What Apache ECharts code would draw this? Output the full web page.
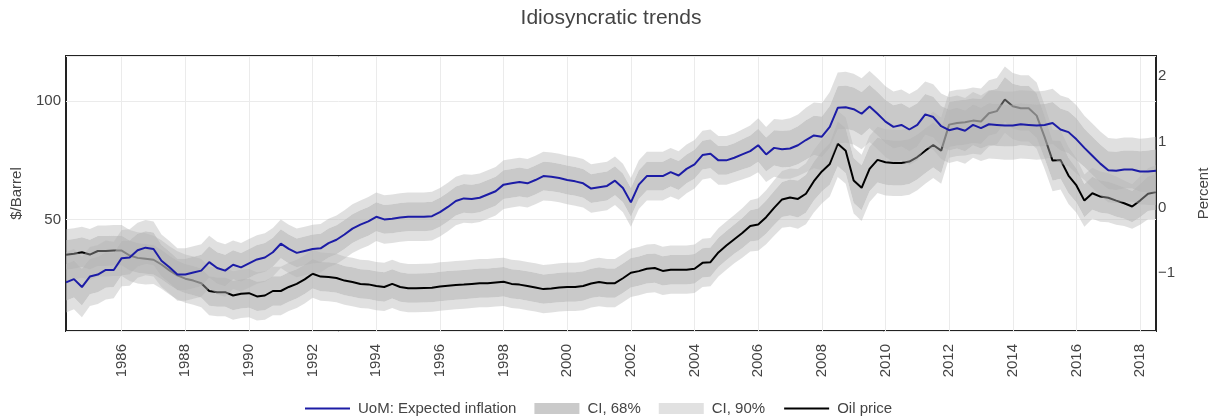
<!DOCTYPE html>
<html><head><meta charset="utf-8">
<script src="https://cdn.jsdelivr.net/npm/echarts@6/dist/echarts.min.js"></script>
<style>html,body{margin:0;padding:0;background:#fff}#c{width:1211px;height:417px}</style>
</head><body><div id="c"></div>
<script>
// Quarterly time axis, 1984Q2 .. 2018Q3
const quarters = (function () {
  const a = [];
  for (let y = 1984; y <= 2018; y++) {
    for (let q = 1; q <= 4; q++) {
      if (y === 1984 && q < 2) continue;
      if (y === 2018 && q > 3) continue;
      a.push(y + 'Q' + q);
    }
  }
  return a;
})();
const xTickYears = ['1986','1988','1990','1992','1994','1996','1998','2000','2002','2004','2006','2008','2010','2012','2014','2016','2018'];
const leftTicks = [50, 100];
const rightTicks = [-1, 0, 1, 2];

// Oil price ($/Barrel), left axis
const oilPrice = [
 35.1,35.5,36.2,35.2,36.7,36.7,36.9,36.9,34.8,33.8,
 33.4,33.0,31.0,28.5,26.4,25.0,24.2,23.1,19.8,19.3,
 19.3,17.9,18.6,18.9,17.5,17.9,19.8,19.8,21.5,22.8,
 24.7,27.1,25.9,25.7,25.3,24.2,23.6,22.8,22.6,21.9,
 21.5,22.8,21.5,21.0,21.0,21.1,21.2,21.7,22.0,22.3,
 22.5,22.8,23.1,23.1,23.4,23.7,22.8,22.5,21.9,21.3,
 20.6,20.9,21.3,21.5,21.5,21.9,23.0,23.6,23.1,23.1,
 25.2,27.5,28.2,29.2,29.5,28.3,28.8,28.8,28.8,29.2,
 31.7,32.0,36.1,39.0,41.7,44.3,47.3,47.9,51.0,54.9,
 58.5,59.3,58.7,60.9,66.2,70.3,73.5,82.0,79.1,66.5,
 63.4,71.4,75.2,74.2,73.9,73.9,74.5,76.4,79.1,81.5,
 79.1,90.1,90.8,91.1,91.8,91.4,94.9,95.8,100.7,97.9,
 97.0,97.0,93.9,84.8,74.9,75.2,68.6,64.4,58.0,61.1,
 59.7,59.2,58.0,56.9,55.5,58.0,60.9,61.6
];
// Oil price CI half-widths ($)
const oilCI68 = [
 6.3,6.3,6.3,6.3,6.3,6.3,6.3,6.3,6.3,6.3,
 6.3,6.2,6.2,6.2,6.2,6.2,6.2,6.2,6.2,6.2,
 6.2,6.2,6.2,6.2,6.2,6.2,6.2,6.2,6.2,6.2,
 6.2,6.2,6.2,6.2,6.2,6.2,6.2,6.2,6.2,6.2,
 6.2,6.2,6.2,6.2,6.2,6.2,6.2,6.2,6.2,6.2,
 6.2,6.2,6.2,6.2,6.2,6.2,6.2,6.2,6.2,6.2,
 6.2,6.2,6.2,6.2,6.2,6.2,6.2,6.2,6.2,6.2,
 6.2,6.2,6.2,6.2,6.2,6.2,6.2,6.2,6.2,6.2,
 6.2,6.2,6.2,6.2,6.2,6.4,6.6,6.8,7.0,7.2,
 7.4,7.6,7.8,8.0,8.2,8.5,8.8,9.5,9.5,9.5,
 9.5,9.5,9.5,9.5,9.5,9.5,9.5,9.5,9.5,9.5,
 9.5,9.5,9.5,9.5,9.5,9.5,9.5,9.5,9.5,9.5,
 9.5,9.5,9.5,9.0,8.5,8.0,7.5,7.2,7.0,7.0,
 6.8,6.8,6.8,6.6,6.6,7.0,7.3,7.6
];
const oilCI90 = [
 10.8,10.8,10.8,10.8,10.8,10.8,10.8,10.8,10.8,10.8,
 10.8,10.2,10.2,10.2,10.2,10.2,10.2,10.2,10.2,10.2,
 10.2,10.2,10.2,10.2,10.2,10.2,10.2,10.2,10.2,10.2,
 10.2,10.2,10.2,10.2,10.2,10.2,10.2,10.2,10.2,10.2,
 10.2,10.2,10.2,10.2,10.2,10.2,10.2,10.2,10.2,10.2,
 10.2,10.2,10.2,10.2,10.2,10.2,10.2,10.2,10.2,10.2,
 10.2,10.2,10.2,10.2,10.2,10.2,10.2,10.2,10.2,10.2,
 10.2,10.2,10.2,10.2,10.2,10.2,10.2,10.2,10.2,10.2,
 10.2,10.2,10.2,10.2,10.2,10.5,10.8,11.1,11.4,11.7,
 12.0,12.3,12.6,12.9,13.2,13.5,13.8,14.0,14.0,14.0,
 14.0,14.0,14.0,14.0,14.0,14.0,14.0,14.0,14.0,14.0,
 14.0,14.0,14.0,14.0,14.0,14.0,14.0,14.0,14.0,14.0,
 14.0,14.0,14.0,13.5,13.0,12.5,12.0,11.5,11.0,10.8,
 10.6,10.4,10.2,9.6,9.4,10.2,10.8,11.4
];
// UoM expected inflation (Percent), right axis
const expInflation = [
 -1.14,-1.09,-1.21,-1.05,-1.02,-0.95,-0.95,-0.77,-0.76,-0.65,
 -0.61,-0.63,-0.81,-0.91,-1.02,-1.02,-0.99,-0.96,-0.83,-0.92,
 -0.96,-0.87,-0.91,-0.85,-0.79,-0.76,-0.68,-0.55,-0.63,-0.69,
 -0.66,-0.63,-0.62,-0.54,-0.49,-0.41,-0.32,-0.26,-0.21,-0.14,
 -0.18,-0.17,-0.15,-0.14,-0.14,-0.14,-0.13,-0.07,0.01,0.10,
 0.14,0.13,0.15,0.20,0.25,0.35,0.37,0.39,0.37,0.42,
 0.48,0.47,0.45,0.42,0.40,0.37,0.29,0.31,0.33,0.41,
 0.30,0.08,0.35,0.48,0.48,0.48,0.54,0.49,0.59,0.66,
 0.80,0.82,0.72,0.72,0.76,0.81,0.86,0.95,0.81,0.91,
 0.89,0.90,0.95,1.03,1.10,1.08,1.23,1.52,1.53,1.50,
 1.43,1.54,1.43,1.31,1.23,1.26,1.19,1.26,1.42,1.38,
 1.24,1.18,1.21,1.17,1.26,1.21,1.27,1.26,1.25,1.25,
 1.27,1.26,1.25,1.26,1.29,1.19,1.15,1.04,0.91,0.79,
 0.67,0.57,0.56,0.58,0.58,0.55,0.55,0.56
];
// Expected inflation CI half-widths (percentage points)
const inflCI68 = [
 0.28,0.28,0.28,0.27,0.27,0.27,0.26,0.26,0.26,0.25,
 0.25,0.25,0.24,0.24,0.24,0.24,0.24,0.24,0.24,0.24,
 0.24,0.22,0.22,0.22,0.22,0.22,0.22,0.22,0.22,0.22,
 0.22,0.22,0.22,0.22,0.22,0.22,0.22,0.22,0.22,0.22,
 0.22,0.22,0.22,0.22,0.22,0.22,0.22,0.22,0.22,0.22,
 0.22,0.22,0.22,0.22,0.22,0.22,0.22,0.22,0.22,0.22,
 0.22,0.22,0.22,0.22,0.22,0.22,0.22,0.22,0.22,0.22,
 0.22,0.22,0.22,0.22,0.22,0.22,0.22,0.22,0.22,0.22,
 0.22,0.22,0.22,0.22,0.22,0.23,0.24,0.25,0.26,0.27,
 0.28,0.28,0.29,0.30,0.30,0.31,0.32,0.33,0.33,0.33,
 0.33,0.33,0.33,0.33,0.33,0.33,0.33,0.33,0.31,0.31,
 0.31,0.31,0.31,0.31,0.31,0.31,0.32,0.32,0.32,0.32,
 0.32,0.32,0.32,0.32,0.32,0.32,0.32,0.32,0.29,0.29,
 0.29,0.29,0.29,0.29,0.29,0.31,0.32,0.33
];
const inflCI90 = [
 0.46,0.46,0.46,0.45,0.45,0.45,0.43,0.43,0.43,0.42,
 0.42,0.42,0.40,0.40,0.40,0.40,0.40,0.40,0.40,0.40,
 0.40,0.37,0.37,0.37,0.37,0.37,0.37,0.37,0.37,0.37,
 0.37,0.37,0.37,0.37,0.37,0.37,0.37,0.37,0.37,0.37,
 0.37,0.37,0.37,0.37,0.37,0.37,0.37,0.37,0.37,0.37,
 0.37,0.37,0.37,0.37,0.37,0.37,0.37,0.37,0.37,0.37,
 0.37,0.37,0.37,0.37,0.37,0.37,0.37,0.37,0.37,0.37,
 0.37,0.37,0.37,0.37,0.37,0.37,0.37,0.37,0.37,0.37,
 0.37,0.37,0.37,0.37,0.37,0.38,0.39,0.41,0.42,0.44,
 0.45,0.46,0.47,0.49,0.50,0.51,0.53,0.54,0.54,0.54,
 0.54,0.54,0.54,0.54,0.54,0.54,0.54,0.54,0.50,0.50,
 0.50,0.50,0.50,0.50,0.50,0.50,0.52,0.52,0.52,0.52,
 0.52,0.52,0.52,0.52,0.52,0.52,0.52,0.52,0.49,0.49,
 0.49,0.49,0.49,0.49,0.49,0.50,0.51,0.52
];

const FONT = '"Liberation Sans", Arial, Helvetica, sans-serif';
const TXT = '#444';
const C68 = 'rgba(180,180,180,0.72)';
const C90 = 'rgba(180,180,180,0.42)';
const BLUE = '#1c1ca6';

function bandSeries(center, w68, w90, stack, yIdx, z) {
  const base = center.map((v, i) => +(v - w90[i]).toFixed(4));
  const outer = w90.map((w, i) => +(w - w68[i]).toFixed(4));
  const inner = w68.map(w => +(2 * w).toFixed(4));
  const common = { type: 'line', stack: stack, stackStrategy: 'all', yAxisIndex: yIdx, z: z,
    symbol: 'none', silent: true, lineStyle: { width: 0 }, emphasis: { disabled: true } };
  return [
    Object.assign({}, common, { name: '_base_' + stack, data: base }),
    Object.assign({}, common, { name: 'CI, 90%', data: outer, itemStyle: { color: '#e1e1e1' }, areaStyle: { color: C90, opacity: 1 } }),
    Object.assign({}, common, { name: 'CI, 68%', data: inner, itemStyle: { color: '#cacaca' }, areaStyle: { color: C68, opacity: 1 } }),
    Object.assign({}, common, { name: 'CI, 90%', data: outer, itemStyle: { color: '#e1e1e1' }, areaStyle: { color: C90, opacity: 1 } })
  ];
}
const isTick = (idx, val) => xTickYears.indexOf(val.slice(0, 4)) >= 0 && val.slice(4) === 'Q1';

const series = []
  .concat(bandSeries(oilPrice, oilCI68, oilCI90, 'oil', 0, 2))
  .concat([{ type: 'line', name: 'Oil price', data: oilPrice, yAxisIndex: 0, symbol: 'none', z: 3,
             lineStyle: { color: '#000', width: 2 }, itemStyle: { color: '#000' }, silent: true }])
  .concat(bandSeries(expInflation, inflCI68, inflCI90, 'infl', 1, 4))
  .concat([{ type: 'line', name: 'UoM: Expected inflation', data: expInflation, yAxisIndex: 1, symbol: 'none', z: 5,
             lineStyle: { color: BLUE, width: 2 }, itemStyle: { color: BLUE }, silent: true }]);

const noSym = { color: 'rgba(0,0,0,0)', borderColor: 'rgba(0,0,0,0)', borderWidth: 0 };

const chart = echarts.init(document.getElementById('c'), null, { renderer: 'canvas' });
chart.setOption({
  animation: false, backgroundColor: '#fff', textStyle: { fontFamily: FONT },
  title: { text: 'Idiosyncratic trends', left: 611, top: 8, padding: 0, textAlign: 'center',
    textStyle: { fontFamily: FONT, fontSize: 21, fontWeight: 'normal', color: TXT } },
  legend: { left: 299, top: 396, itemGap: 18, itemWidth: 45, itemHeight: 11,
    textStyle: { fontFamily: FONT, fontSize: 15, color: TXT, padding: [0, 0, 0, 3] },
    data: [
      { name: 'UoM: Expected inflation', itemStyle: noSym, lineStyle: { color: BLUE, width: 2 } },
      { name: 'CI, 68%', icon: 'rect', itemStyle: { color: '#cacaca' } },
      { name: 'CI, 90%', icon: 'rect', itemStyle: { color: '#e1e1e1' } },
      { name: 'Oil price', itemStyle: noSym, lineStyle: { color: '#000', width: 2 } } ] },
  grid: { left: 66, right: 55, top: 56, bottom: 86, show: true, borderColor: '#222', borderWidth: 2,
          backgroundColor: 'transparent', outerBoundsMode: 'none', containLabel: false },
  xAxis: { type: 'category', data: quarters, boundaryGap: false,
    axisLine: { show: false }, axisTick: { show: false },
    axisLabel: { interval: isTick, rotate: 90, margin: 13, fontSize: 15, color: TXT, fontFamily: FONT, formatter: v => v.slice(0, 4) },
    splitLine: { show: true, interval: isTick, lineStyle: { color: '#ebebeb', width: 1 } } },
  yAxis: [
    { type: 'value', position: 'left', min: 2.9, max: 119.1, splitNumber: 2,
      axisLine: { show: false }, axisTick: { show: false },
      axisLabel: { margin: 5, fontSize: 15, color: TXT, fontFamily: FONT, formatter: v => leftTicks.indexOf(v) >= 0 ? String(v) : '' },
      splitLine: { show: true, lineStyle: { color: '#ebebeb', width: 1 } },
      name: '$/Barrel', nameLocation: 'middle', nameGap: 42, nameRotate: 90,
      nameTextStyle: { fontSize: 15, color: TXT, fontFamily: FONT } },
    { type: 'value', position: 'right', min: -1.88, max: 2.31, splitNumber: 4,
      axisLine: { show: false }, axisTick: { show: false },
      axisLabel: { margin: 2, fontSize: 15, color: TXT, fontFamily: FONT,
                   formatter: v => rightTicks.indexOf(v) >= 0 ? (v < 0 ? '\u2212' + Math.abs(v) : String(v)) : '' },
      splitLine: { show: false },
      name: 'Percent', nameLocation: 'middle', nameGap: 40, nameRotate: 90,
      nameTextStyle: { fontSize: 15, color: TXT, fontFamily: FONT } } ],
  series: series
});
</script>
</body></html>
